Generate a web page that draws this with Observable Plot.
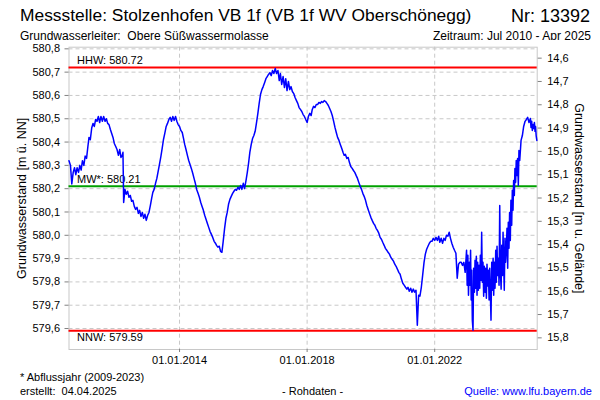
<!DOCTYPE html>
<html><head><meta charset="utf-8">
<script src="https://cdn.jsdelivr.net/npm/d3@7"></script>
<script src="https://cdn.jsdelivr.net/npm/@observablehq/plot@0.6"></script>
<style>
body{margin:0;background:#fff;font-family:"Liberation Sans",Arial,sans-serif;}
#wrap{position:relative;width:600px;height:400px;overflow:hidden;background:#fff;}
.t{position:absolute;white-space:nowrap;color:#000;line-height:1;}
</style></head><body>
<div id="wrap">
<div class="t" style="left:20px;top:7px;font-size:17.4px">Messstelle: Stolzenhofen VB 1f (VB 1f WV Oberschönegg)</div>
<div class="t" style="right:10px;top:7px;font-size:18px">Nr: 13392</div>
<div class="t" style="left:20px;top:30px;font-size:12px">Grundwasserleiter:&nbsp; Obere Süßwassermolasse</div>
<div class="t" style="right:9px;top:30px;font-size:12px">Zeitraum: Jul 2010 - Apr 2025</div>
<div id="chart" style="position:absolute;left:0;top:40px"></div>
<div class="t" style="left:20px;top:372px;font-size:11px">* Abflussjahr (2009-2023)</div>
<div class="t" style="left:20px;top:386px;font-size:11px">erstellt:&nbsp; 04.04.2025</div>
<div class="t" style="left:282px;top:386px;font-size:11px">- Rohdaten -</div>
<div class="t" style="right:8px;top:386px;font-size:11px;color:#0000ff">Quelle: www.lfu.bayern.de</div>
</div>
<script>
// ---- data ----
const dates = [
"2010-07-15","2010-08-01","2010-08-16","2010-09-01","2010-09-16","2010-10-01","2010-10-16","2010-11-01","2010-11-16","2010-12-01","2010-12-16",
"2011-01-01","2011-01-16","2011-02-01","2011-02-16","2011-03-01","2011-03-16","2011-04-01","2011-04-16","2011-05-01","2011-05-16","2011-06-01","2011-06-16","2011-07-01","2011-07-16","2011-08-01","2011-08-16","2011-09-01","2011-09-16","2011-10-01","2011-10-16","2011-11-01","2011-11-16","2011-12-01","2011-12-16",
"2012-01-01","2012-01-16","2012-02-01","2012-02-16","2012-03-01","2012-03-16","2012-03-24","2012-04-01","2012-04-16","2012-05-01","2012-05-16","2012-06-01","2012-06-16","2012-07-01","2012-07-16","2012-08-01","2012-08-16","2012-09-01","2012-09-16","2012-10-01","2012-10-16","2012-11-01","2012-11-16","2012-12-01","2012-12-16",
"2013-01-01","2013-01-16","2013-02-01","2013-02-16","2013-03-01","2013-03-16","2013-04-01","2013-04-16","2013-05-01","2013-05-16","2013-06-01","2013-06-16","2013-07-01","2013-07-16","2013-08-01","2013-08-16","2013-09-01","2013-09-16","2013-10-01","2013-10-16","2013-11-01","2013-11-16","2013-12-01","2013-12-16",
"2014-01-01","2014-01-16","2014-02-01","2014-02-16","2014-03-01","2014-03-16","2014-04-01","2014-04-16","2014-05-01","2014-05-16","2014-06-01","2014-06-16","2014-07-01","2014-07-16","2014-08-01","2014-08-16","2014-09-01","2014-09-16","2014-10-01","2014-10-16","2014-11-01","2014-11-16","2014-12-01","2014-12-16",
"2015-01-01","2015-01-16","2015-02-01","2015-02-16","2015-03-01","2015-03-16","2015-04-01","2015-04-16","2015-05-01","2015-05-16","2015-06-01","2015-06-16","2015-07-01","2015-07-16","2015-08-01","2015-08-16","2015-09-01","2015-09-16","2015-10-01","2015-10-16","2015-11-01","2015-11-16","2015-12-01","2015-12-16",
"2016-01-01","2016-01-16","2016-02-01","2016-02-16","2016-03-01","2016-03-16","2016-04-01","2016-04-16","2016-05-01","2016-05-16","2016-06-01","2016-06-16","2016-07-01","2016-07-16","2016-08-01","2016-08-16","2016-09-01","2016-09-16","2016-10-01","2016-10-16","2016-11-01","2016-11-16","2016-12-01","2016-12-16",
"2017-01-01","2017-01-16","2017-02-01","2017-02-16","2017-03-01","2017-03-16","2017-04-01","2017-04-16","2017-05-01","2017-05-16","2017-06-01","2017-06-16","2017-07-01","2017-07-16","2017-08-01","2017-08-16","2017-09-01","2017-09-16","2017-10-01","2017-10-16","2017-11-01","2017-11-16","2017-12-01","2017-12-16",
"2018-01-01","2018-01-16","2018-02-01","2018-02-16","2018-03-01","2018-03-16","2018-04-01","2018-04-16","2018-05-01","2018-05-16","2018-06-01","2018-06-16","2018-07-01","2018-07-16","2018-08-01","2018-08-16","2018-09-01","2018-09-16","2018-10-01","2018-10-16","2018-11-01","2018-11-16","2018-12-01","2018-12-16",
"2019-01-01","2019-01-16","2019-02-01","2019-02-16","2019-03-01","2019-03-16","2019-04-01","2019-04-16","2019-05-01","2019-05-16","2019-06-01","2019-06-16","2019-07-01","2019-07-16","2019-08-01","2019-08-16","2019-09-01","2019-09-16","2019-10-01","2019-10-16","2019-11-01","2019-11-16","2019-12-01","2019-12-16",
"2020-01-01","2020-01-16","2020-02-01","2020-02-16","2020-03-01","2020-03-16","2020-04-01","2020-04-16","2020-05-01","2020-05-16","2020-06-01","2020-06-16","2020-07-01","2020-07-16","2020-08-01","2020-08-16","2020-09-01","2020-09-16","2020-10-01","2020-10-16","2020-11-01","2020-11-16","2020-12-01","2020-12-16",
"2021-01-01","2021-01-16","2021-02-01","2021-02-16","2021-03-01","2021-03-16","2021-04-01","2021-04-16","2021-05-01","2021-05-16","2021-06-01","2021-06-16","2021-07-01","2021-07-16","2021-08-01","2021-08-16","2021-09-01","2021-09-16","2021-10-01","2021-10-16","2021-11-01","2021-11-16","2021-12-01","2021-12-16",
"2022-01-01","2022-01-16","2022-02-01","2022-02-16","2022-03-01","2022-03-16","2022-04-01","2022-04-16","2022-05-01","2022-05-16","2022-06-01","2022-06-16","2022-07-01","2022-07-16","2022-08-01","2022-08-16","2022-09-01","2022-09-16","2022-10-01","2022-10-16","2022-11-01","2022-11-16","2022-12-01","2022-12-16",
"2023-01-01","2023-01-08","2023-01-16","2023-01-23","2023-02-01","2023-02-08","2023-02-16","2023-02-23","2023-03-01","2023-03-08","2023-03-16","2023-03-23","2023-04-01","2023-04-08","2023-04-16","2023-04-23","2023-05-01","2023-05-08","2023-05-16","2023-05-23","2023-06-01","2023-06-08","2023-06-16","2023-06-23",
"2023-07-01","2023-07-08","2023-07-16","2023-07-23","2023-08-01","2023-08-08","2023-08-16","2023-08-23","2023-09-01","2023-09-08","2023-09-16","2023-09-23","2023-10-01","2023-10-08","2023-10-16","2023-10-23","2023-11-01","2023-11-08","2023-11-16","2023-11-23","2023-12-01","2023-12-08","2023-12-16","2023-12-23",
"2024-01-01","2024-01-08","2024-01-16","2024-01-23","2024-02-01","2024-02-08","2024-02-16","2024-02-23","2024-03-01","2024-03-08","2024-03-16","2024-03-23","2024-04-01","2024-04-08","2024-04-16","2024-04-23","2024-05-01","2024-05-08","2024-05-16","2024-05-23",
"2024-06-01","2024-06-08","2024-06-16","2024-06-23","2024-07-01","2024-07-08","2024-07-16","2024-07-23","2024-08-01","2024-08-08","2024-08-16","2024-08-23","2024-09-01","2024-09-16","2024-10-01","2024-10-16","2024-11-01","2024-11-16","2024-12-01","2024-12-16",
"2025-01-01","2025-01-08","2025-01-16","2025-01-23","2025-02-01","2025-02-08","2025-02-16","2025-02-23","2025-03-01","2025-03-08","2025-03-16"
];
const levels = [
580.32,580.30,580.22,580.27,580.29,580.26,580.29,580.27,580.30,580.28,580.32,
580.30,580.34,580.33,580.38,580.42,580.41,580.46,580.48,580.467,580.497,580.489,580.51,580.484,580.51,580.489,580.51,580.489,580.50,580.48,580.475,580.454,580.437,580.42,580.394,
580.381,580.368,580.343,580.368,580.334,580.343,580.356,580.141,580.197,580.176,580.189,580.163,580.171,580.146,580.150,580.124,580.111,580.120,580.094,580.107,580.081,580.098,580.073,580.090,580.064,
580.086,580.098,580.128,580.159,580.184,580.197,580.223,580.244,580.274,580.304,580.338,580.373,580.411,580.437,580.467,580.480,580.497,580.506,580.489,580.510,580.493,580.510,580.489,580.475,
580.467,580.450,580.441,580.415,580.390,580.368,580.343,580.321,580.304,580.287,580.266,580.244,580.223,580.197,580.180,580.163,580.141,580.124,580.107,580.086,580.068,580.051,580.034,580.017,
580.004,579.991,579.974,579.966,579.957,579.949,579.953,579.931,579.927,579.974,580.030,580.073,580.098,580.133,580.154,580.167,580.180,580.189,580.197,580.193,580.206,580.197,580.214,580.197,
580.223,580.201,580.235,580.270,580.308,580.356,580.390,580.415,580.428,580.446,580.484,580.523,580.566,580.604,580.625,580.638,580.655,580.672,580.681,580.690,580.698,580.685,580.707,580.694,
580.716,580.694,580.707,580.664,580.694,580.647,580.681,580.634,580.672,580.621,580.660,580.625,580.638,580.617,580.608,580.591,580.578,580.566,580.548,580.540,580.531,580.518,580.510,580.497,
580.484,580.510,580.523,580.514,580.540,580.553,580.548,580.561,580.561,580.570,580.566,580.574,580.570,580.578,580.574,580.566,580.557,580.544,580.531,580.514,580.489,580.463,580.441,580.420,
580.407,580.390,580.373,580.356,580.343,580.347,580.330,580.334,580.312,580.295,580.287,580.278,580.270,580.257,580.244,580.227,580.210,580.197,580.180,580.167,580.150,580.128,580.111,580.094,
580.077,580.064,580.051,580.043,580.030,580.021,580.009,579.991,579.983,579.970,579.957,579.944,579.936,579.927,579.919,579.906,579.897,579.889,579.876,579.867,579.854,579.841,579.833,579.812,
579.794,579.786,579.777,579.769,579.777,579.760,579.773,579.756,579.769,579.756,579.764,579.614,579.743,579.739,579.777,579.828,579.884,579.919,579.940,579.953,579.966,579.974,579.974,579.987,
579.978,579.991,579.978,579.996,579.970,579.987,579.966,579.987,579.978,580.000,579.996,580.013,579.987,579.966,579.949,579.936,579.923,579.816,579.876,579.884,579.884,579.871,579.884,579.841,
579.936,579.786,579.914,579.743,579.884,579.786,579.936,579.722,579.850,579.636,579.593,579.859,579.756,579.893,579.773,579.910,579.743,579.884,579.764,579.871,579.773,579.914,579.807,580.013,
579.799,579.884,579.739,579.867,579.756,579.859,579.730,579.876,579.782,579.850,579.722,579.859,579.743,579.636,579.884,579.764,579.902,579.743,579.884,579.773,579.936,579.799,579.953,579.828,
579.902,579.786,580.128,579.846,579.769,579.957,579.828,580.013,579.871,579.764,579.987,579.884,579.944,580.030,579.859,580.056,579.944,580.098,579.978,580.150,
580.043,580.193,580.107,580.235,580.171,580.287,580.227,580.321,580.257,580.330,580.214,580.364,580.321,580.407,580.428,580.467,580.489,580.497,580.506,580.484,
580.501,580.463,580.489,580.450,580.475,580.458,580.484,580.446,580.467,580.428,580.407
];
const refLabels = ["HHW: 580.72", "MW*: 580.21", "NNW: 579.59"];
const refValues = [580.72, 580.21, 579.59];
const refColors = ["#ff0000", "#00a000", "#ff0000"];
const levelTicks = [579.6,579.7,579.8,579.9,580.0,580.1,580.2,580.3,580.4,580.5,580.6,580.7,580.8];
const depthTicks = [14.6,14.7,14.8,14.9,15.0,15.1,15.2,15.3,15.4,15.5,15.6,15.7,15.8];
const groundLevel = 595.36; // Geländehöhe [m ü. NN]
const dateTicks = ["2014-01-01","2018-01-01","2022-01-01"];
const periodStart = "2010-07-15", periodEnd = "2025-03-20";

// ---- build ----
const data = dates.map((d, i) => ({date: new Date(d), level: levels[i]}));
const refs = refLabels.map((l, i) => ({label: l, value: refValues[i], color: refColors[i]}));
const xTicks = dateTicks.map(d => new Date(d));
const comma = v => v.toFixed(1).replace(".", ",");
const fmtDate = d3.utcFormat("%d.%m.%Y");
const gridStyle = {stroke: "#c8c8c8", strokeWidth: 1, strokeDasharray: "4,3"};
const axisCol = "#808080";

const chart = Plot.plot({
  width: 600, height: 333,
  marginTop: 6.7, marginBottom: 24, marginLeft: 68.5, marginRight: 63.3,
  style: {fontFamily: "'Liberation Sans', Arial, sans-serif", fontSize: "11px", color: "#000", background: "#fff", overflow: "visible"},
  x: {type: "utc", domain: [new Date(periodStart), new Date(periodEnd)], axis: null},
  y: {domain: [579.51, 580.807], axis: null},
  marks: [
    Plot.frame({stroke: "#c8c8c8"}),
    Plot.ruleY(levelTicks, gridStyle),
    Plot.ruleX(xTicks, gridStyle),
    Plot.ruleY(refs, {y: "value", stroke: "color", strokeWidth: 2}),
    Plot.text(refs.filter(r => r.value > 580), {y: "value", text: "label", frameAnchor: "left", textAnchor: "start", dx: 8, dy: -7, fontSize: 11, fill: "#000"}),
    Plot.text(refs.filter(r => r.value < 580), {y: "value", text: "label", frameAnchor: "left", textAnchor: "start", dx: 8, dy: 7, fontSize: 11, fill: "#000"}),
    Plot.line(data, {x: "date", y: "level", stroke: "#0000ff", strokeWidth: 1.5}),
    Plot.axisY(levelTicks, {anchor: "left", tickFormat: comma, label: null, tickSize: 4, tickPadding: 5, stroke: axisCol, fill: "#000", fontSize: 11, line: true}),
    Plot.axisY(depthTicks.map(d => groundLevel - d), {anchor: "right", tickFormat: v => comma(groundLevel - v), label: null, tickSize: 4, tickPadding: 6, stroke: axisCol, fill: "#000", fontSize: 11, line: true}),
    Plot.axisX(xTicks, {anchor: "bottom", tickFormat: fmtDate, label: null, tickSize: 3, tickPadding: 4, stroke: axisCol, fill: "#000", fontSize: 11, line: true}),
    Plot.text(["Grundwasserstand [m ü. NN]"], {frameAnchor: "left", textAnchor: "middle", rotate: -90, dx: -47.5, fontSize: 12.5, fill: "#000"}),
    Plot.text(["Grundwasserstand [m u. Gelände]"], {frameAnchor: "right", textAnchor: "middle", rotate: 90, dx: 42, fontSize: 12.5, fill: "#000"})
  ]
});
document.getElementById("chart").appendChild(chart);
</script>
</body></html>
